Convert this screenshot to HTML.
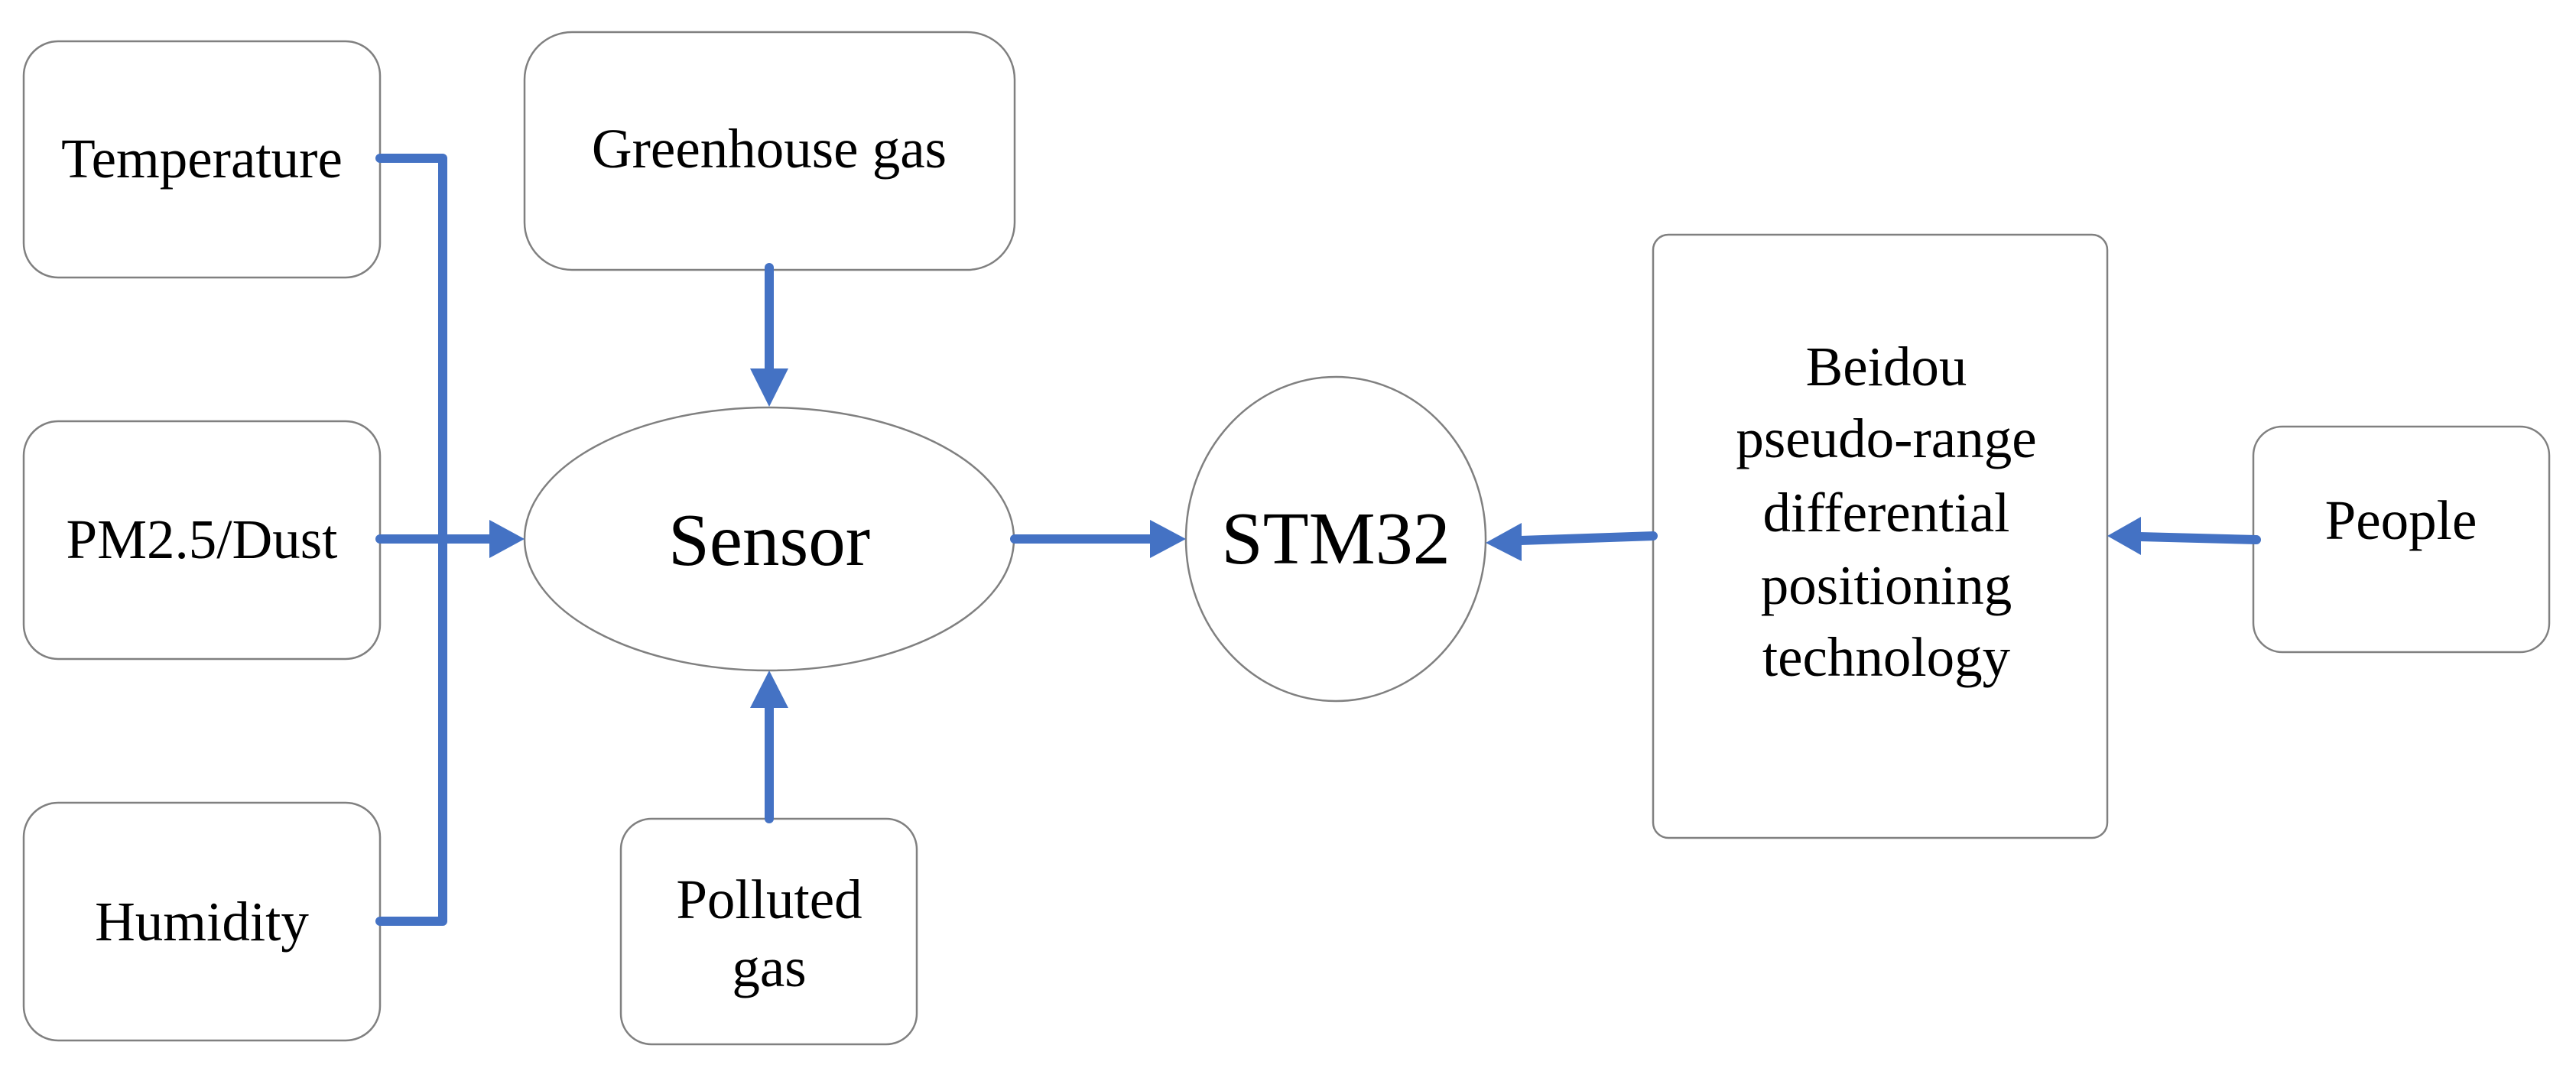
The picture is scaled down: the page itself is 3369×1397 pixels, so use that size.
<!DOCTYPE html>
<html><head><meta charset="utf-8"><style>
html,body{margin:0;padding:0;background:#fff;}
svg{display:block;}
text{font-family:"Liberation Serif",serif;fill:#000;text-anchor:middle;}
</style></head><body>
<svg width="3369" height="1397" viewBox="0 0 3369 1397" xmlns="http://www.w3.org/2000/svg">
<g fill="#fff" stroke="#808080" stroke-width="2.5">
<rect x="31" y="54" width="466" height="309" rx="45"/>
<rect x="31" y="551" width="466" height="311" rx="45"/>
<rect x="31" y="1050" width="466" height="311" rx="45"/>
<rect x="686" y="42" width="641" height="311" rx="62"/>
<rect x="812" y="1071" width="387" height="295" rx="40"/>
<rect x="2162" y="307" width="594" height="789" rx="20"/>
<rect x="2947" y="558" width="387" height="295" rx="38"/>
<ellipse cx="1006" cy="705" rx="320" ry="172"/>
<ellipse cx="1747" cy="705" rx="196" ry="212"/>
</g>
<g stroke="#4472C4" stroke-width="12" fill="none" stroke-linecap="round" stroke-linejoin="round">
<polyline points="497,207 579,207 579,1205 497,1205"/>
<line x1="497" y1="705" x2="645" y2="705"/>
<line x1="1006" y1="350" x2="1006" y2="485"/>
<line x1="1006" y1="1071" x2="1006" y2="925"/>
<line x1="1327" y1="705" x2="1508" y2="705"/>
<line x1="2162" y1="701" x2="1988" y2="707"/>
<line x1="2951" y1="706" x2="2798" y2="702"/>
</g>
<g fill="#4472C4">
<polygon points="640,680 686,705 640,730"/>
<polygon points="981,482 1031,482 1006,532"/>
<polygon points="981,926 1031,926 1006,877"/>
<polygon points="1504,680 1551,705 1504,730"/>
<polygon points="1990,684 1943,710 1990,734"/>
<polygon points="2800,676 2756,701 2800,726"/>
</g>
<g font-size="73">
<text x="264" y="232">Temperature</text>
<text x="264" y="730">PM2.5/Dust</text>
<text x="264" y="1230">Humidity</text>
<text x="1006" y="219">Greenhouse gas</text>
<text x="1006" y="1201">Polluted</text>
<text x="1006" y="1290">gas</text>
<text x="2467" y="504">Beidou</text>
<text x="2467" y="598">pseudo-range</text>
<text x="2467" y="695">differential</text>
<text x="2467" y="790">positioning</text>
<text x="2467" y="884">technology</text>
<text x="3140" y="705">People</text>
</g>
<text x="1006" y="739" font-size="97">Sensor</text>
<text x="1747" y="737" font-size="98">STM32</text>
</svg>
</body></html>
